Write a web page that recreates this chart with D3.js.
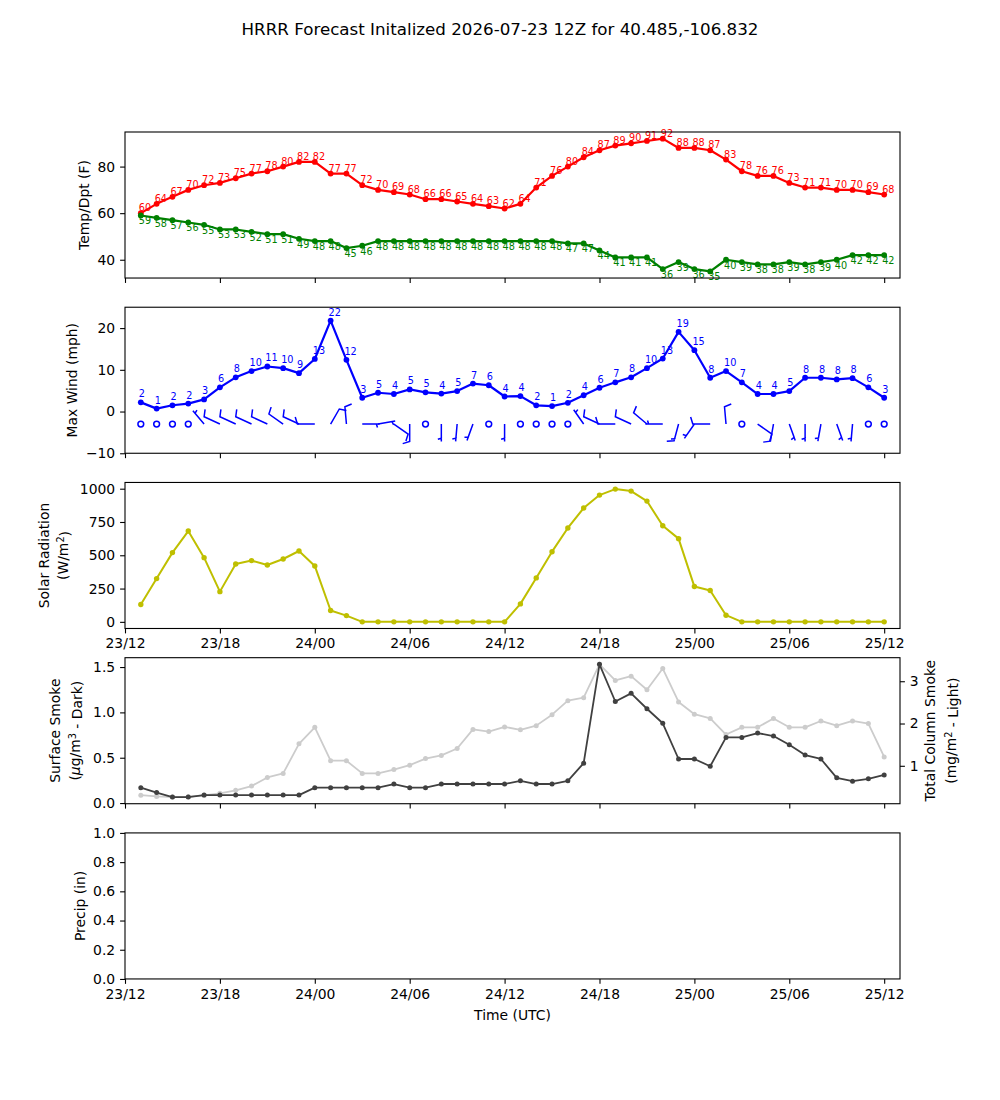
<!DOCTYPE html>
<html><head><meta charset="utf-8">
<script src="https://cdn.jsdelivr.net/npm/d3@7"></script>
<style>body{margin:0;background:#fff} text{font-family:"DejaVu Sans",sans-serif}</style>
</head><body>
<svg id="c" width="1000" height="1100"></svg>
<script>
// ---------------- data ----------------
const titleText = "HRRR Forecast Initalized 2026-07-23 12Z for 40.485,-106.832";
const firstValidTime = "2026-07-23T13:00:00Z";
const axisStart = "2026-07-23T12:00:00Z";
const axisEnd = "2026-07-25T13:00:00Z";
const xTickLabels = ["23/12","23/18","24/00","24/06","24/12","24/18","25/00","25/06","25/12"];

const temperature = [60,64,67,70,72,73,75,77,78,80,82,82,77,77,72,70,69,68,66,66,65,64,63,62,
                     64,71,76,80,84,87,89,90,91,92,88,88,87,83,78,76,76,73,71,71,70,70,69,68];
const dewpoint = [59,58,57,56,55,53,53,52,51,51,49,48,48,45,46,48,48,48,48,48,48,48,48,48,
                  48,48,48,47,47,44,41,41,41,36,39,36,35,40,39,38,38,39,38,39,40,42,42,42];
const maxWind = [2.2,0.7,1.5,1.9,2.9,5.8,8.2,9.7,10.8,10.4,9.2,12.6,21.8,12.4,3.3,4.5,4.2,5.3,4.6,4.3,4.9,6.7,6.3,3.6,
                 3.7,1.5,1.3,2.1,3.9,5.7,7.0,8.2,10.4,12.7,19.1,14.7,8.1,9.7,7.0,4.2,4.2,4.9,8.1,8.1,7.7,8.0,5.8,3.3];
// wind barbs: direction the wind blows from (deg) and speed (kt, rounded to 5)
const barbDirection = [0,0,0,0,320,295,295,295,295,305,295,270,30,355,90,80,125,180,0,180,185,200,0,180,
                       0,0,0,0,325,295,270,295,310,270,195,215,270,355,0,125,190,160,180,190,160,185,0,0];
const barbSpeed = [0,0,0,0,5,10,10,10,10,10,10,10,10,10,5,5,10,10,0,5,5,5,0,5,
                   0,0,0,0,5,10,10,10,10,5,15,5,10,10,0,10,10,5,5,5,5,5,0,0];
const solarRadiation = [130,325,520,682,482,227,435,460,427,472,532,420,85,47,0,0,0,0,0,0,0,0,0,0,
                        135,330,527,705,855,952,997,982,907,722,625,265,235,50,0,0,0,0,0,0,0,0,0,0];
const surfaceSmoke = [0.17,0.116,0.066,0.066,0.088,0.088,0.088,0.088,0.088,0.088,0.088,0.17,0.17,0.17,0.17,0.17,
                      0.21,0.17,0.17,0.21,0.21,0.21,0.21,0.21,0.245,0.21,0.21,0.245,0.44,1.53,1.12,1.21,
                      1.04,0.88,0.486,0.486,0.406,0.724,0.724,0.772,0.739,0.643,0.53,0.486,0.278,0.241,0.267,0.31];
const columnSmoke = [0.306,0.275,0.26,0.27,0.3,0.35,0.42,0.52,0.725,0.82,1.52,1.91,1.12,1.12,0.82,0.82,
                     0.91,1.015,1.17,1.245,1.41,1.86,1.81,1.92,1.85,1.95,2.21,2.54,2.61,3.40,3.02,3.12,
                     2.80,3.30,2.51,2.22,2.12,1.74,1.91,1.91,2.12,1.91,1.91,2.06,1.95,2.06,2.0,1.21];
const precip = [];

const tempTicks = [40,60,80];
const windTicks = [-10,0,10,20];
const solarTicks = [0,250,500,750,1000];
const smokeTicks = [0.0,0.5,1.0,1.5];
const colSmokeTicks = [1,2,3];
const precipTicks = [0.0,0.2,0.4,0.6,0.8,1.0];

// ---------------- layout ----------------
const svg = d3.select("#c");
const PL = 125, PR = 900, PH = 146.03, GAP = 29.2, PT0 = 132;
const ptop = k => PT0 + k*(PH+GAP);
const FS = 13.9;
const times = temperature.map((_, i) => new Date(Date.parse(firstValidTime) + i*3600e3));
const x = d3.scaleUtc().domain([new Date(axisStart), new Date(axisEnd)]).range([PL, PR]);
const xTickVals = d3.utcHour.every(6).range(new Date(axisStart), new Date(axisEnd));

function pad(arr){ const mn=d3.min(arr), mx=d3.max(arr), r=mx-mn; return [mn-0.05*r, mx+0.05*r]; }

function styleAxis(g){
  g.select(".domain").remove();
  g.selectAll(".tick line").attr("stroke","#000").attr("stroke-width",1.1);
  g.selectAll(".tick text").attr("font-size",FS+"px").attr("fill","#000").attr("font-family","DejaVu Sans, sans-serif");
}

function makePanel(k, ydomain, yticks, yfmt, showX){
  const t = ptop(k), b = t + PH;
  const y = d3.scaleLinear().domain(ydomain).range([b, t]);
  const gx = svg.append("g").attr("transform",`translate(0,${b})`)
    .call(d3.axisBottom(x).tickValues(xTickVals).tickSize(4.9).tickPadding(4.9)
      .tickFormat((d,i)=> showX ? xTickLabels[i] : ""));
  styleAxis(gx);
  const gy = svg.append("g").attr("transform",`translate(${PL},0)`)
    .call(d3.axisLeft(y).tickValues(yticks).tickSize(4.9).tickPadding(4.9).tickFormat(yfmt));
  styleAxis(gy);
  return {t, b, y};
}
function frame(p){
  svg.append("rect").attr("x",PL).attr("y",p.t).attr("width",PR-PL).attr("height",PH)
    .attr("fill","none").attr("stroke","#000").attr("stroke-width",1.1);
}
function yLabel(xc, p, lines){
  const yc = (p.t+p.b)/2;
  lines.forEach(([xx, parts]) => {
    const tx = svg.append("text").attr("transform",`translate(${xx},${yc}) rotate(-90)`)
      .attr("text-anchor","middle").attr("dy","0.35em").attr("font-size",FS+"px").attr("fill","#000");
    parts.forEach(pp => {
      const s = tx.append("tspan").text(pp.t);
      if (pp.sup) s.attr("dy","-0.45em").attr("font-size",(FS*0.7)+"px");
      if (pp.down) s.attr("dy","0.45em");
      if (pp.it) s.attr("font-style","italic");
    });
  });
}
function series(p, yscale, vals, color, lw, r){
  svg.append("path").datum(vals).attr("fill","none").attr("stroke",color).attr("stroke-width",lw)
    .attr("stroke-linejoin","round")
    .attr("d", d3.line().x((d,i)=>x(times[i])).y(d=>yscale(d)));
  svg.append("g").selectAll("circle").data(vals).join("circle")
    .attr("cx",(d,i)=>x(times[i])).attr("cy",d=>yscale(d)).attr("r",r).attr("fill",color);
}

// title
svg.append("text").attr("x",500).attr("y",35).attr("text-anchor","middle")
  .attr("font-size","16.7px").attr("fill","#000").text(titleText);

// ---- panel 1: temperature / dewpoint
const p1 = makePanel(0, pad(temperature.concat(dewpoint)), tempTicks, d3.format("d"), false);
series(p1, p1.y, temperature, "#ff0000", 2.2, 2.9);
series(p1, p1.y, dewpoint, "#008000", 2.2, 2.9);
svg.append("g").selectAll("text").data(temperature).join("text")
  .attr("x",(d,i)=>x(times[i])-2).attr("y",d=>p1.y(d)-2).attr("font-size","9.7px").attr("fill","#ff0000")
  .text(d=>Math.round(d));
svg.append("g").selectAll("text").data(dewpoint).join("text")
  .attr("x",(d,i)=>x(times[i])-2).attr("y",d=>p1.y(d)+9).attr("font-size","9.7px").attr("fill","#008000")
  .text(d=>Math.round(d));
frame(p1);
yLabel(0, p1, [[84.5, [{t:"Temp/Dpt (F)"}]]]);

// ---- panel 2: wind
const p2 = makePanel(1, [-10,25], windTicks, d3.format("d"), false);
series(p2, p2.y, maxWind, "#0000ff", 2.2, 2.9);
svg.append("g").selectAll("text").data(maxWind).join("text")
  .attr("x",(d,i)=>x(times[i])-2).attr("y",d=>p2.y(d)-5).attr("font-size","9.7px").attr("fill","#0000ff")
  .text(d=>Math.round(d));
const BL = 17.4;
function barbPath(px, py, dirDeg, spd){
  const nflags = Math.floor(spd/50); let rem = spd - nflags*50;
  const nbarbs = Math.floor(rem/10); rem -= nbarbs*10;
  const half = rem >= 5;
  const sp = 0.125*BL, fh = 0.4*BL, fw = 0.25*BL;
  const v = [[0,0]]; let off = BL;
  for (let k=0;k<nflags;k++){ v.push([0,off],[fh,off-fw/2],[0,off-fw]); off -= fw+sp; }
  for (let k=0;k<nbarbs;k++){ v.push([0,off],[fh,off+fw/2],[0,off]); off -= sp; }
  if (half){ if (off===BL){ v.push([0,off]); off -= 1.5*sp; } v.push([0,off],[fh/2,off+fw/4],[0,off]); }
  const ph = dirDeg*Math.PI/180, dx = Math.sin(ph), dy = Math.cos(ph);
  const rx = dy, ry = -dx;
  return "M" + v.map(([a,c]) => [px + a*rx + c*dx, py - (a*ry + c*dy)].map(n=>n.toFixed(2)).join(",")).join("L") + "Z";
}
const barbG = svg.append("g");
barbSpeed.forEach((s,i) => {
  const px = x(times[i]), py = p2.y(-3);
  if (s < 2.5) {
    barbG.append("circle").attr("cx",px).attr("cy",py).attr("r",0.15*BL+0.3)
      .attr("fill","none").attr("stroke","#0000ff").attr("stroke-width",1.5);
  } else {
    barbG.append("path").attr("d", barbPath(px, py, barbDirection[i], s))
      .attr("fill","#0000ff").attr("stroke","#0000ff").attr("stroke-width",1.5).attr("stroke-linejoin","miter");
  }
});
frame(p2);
yLabel(0, p2, [[72.5, [{t:"Max Wind (mph)"}]]]);

// ---- panel 3: solar
const p3 = makePanel(2, pad(solarRadiation), solarTicks, d3.format("d"), true);
series(p3, p3.y, solarRadiation, "#bfbf00", 2.0, 2.7);
frame(p3);
yLabel(0, p3, [[44, [{t:"Solar Radiation"}]], [63.5, [{t:"(W/m"},{t:"2",sup:true},{t:")",down:true}]]]);

// ---- panel 4: smoke
const p4 = makePanel(3, pad(surfaceSmoke), smokeTicks, d3.format(".1f"), false);
const yR = d3.scaleLinear().domain(pad(columnSmoke)).range([p4.b, p4.t]);
const gR = svg.append("g").attr("transform",`translate(${PR},0)`)
  .call(d3.axisRight(yR).tickValues(colSmokeTicks).tickSize(4.9).tickPadding(4.9).tickFormat(d3.format("d")));
styleAxis(gR);
series(p4, yR, columnSmoke, "#cccccc", 1.8, 2.5);
series(p4, p4.y, surfaceSmoke, "#404040", 1.8, 2.5);
frame(p4);
yLabel(0, p4, [[55, [{t:"Surface Smoke"}]],
  [75, [{t:"("},{t:"μ",it:true},{t:"g/m"},{t:"3",sup:true},{t:" - Dark)",down:true}]]]);
yLabel(0, p4, [[930, [{t:"Total Column Smoke"}]],
  [951, [{t:"(mg/m"},{t:"2",sup:true},{t:" - Light)",down:true}]]]);

// ---- panel 5: precip
const p5 = makePanel(4, [0,1], precipTicks, d3.format(".1f"), true);
if (precip.length) series(p5, p5.y, precip, "#00aa00", 2, 2.5);
frame(p5);
yLabel(0, p5, [[80, [{t:"Precip (in)"}]]]);
svg.append("text").attr("x",(PL+PR)/2).attr("y",1020).attr("text-anchor","middle")
  .attr("font-size",FS+"px").attr("fill","#000").text("Time (UTC)");
</script>
</body></html>
